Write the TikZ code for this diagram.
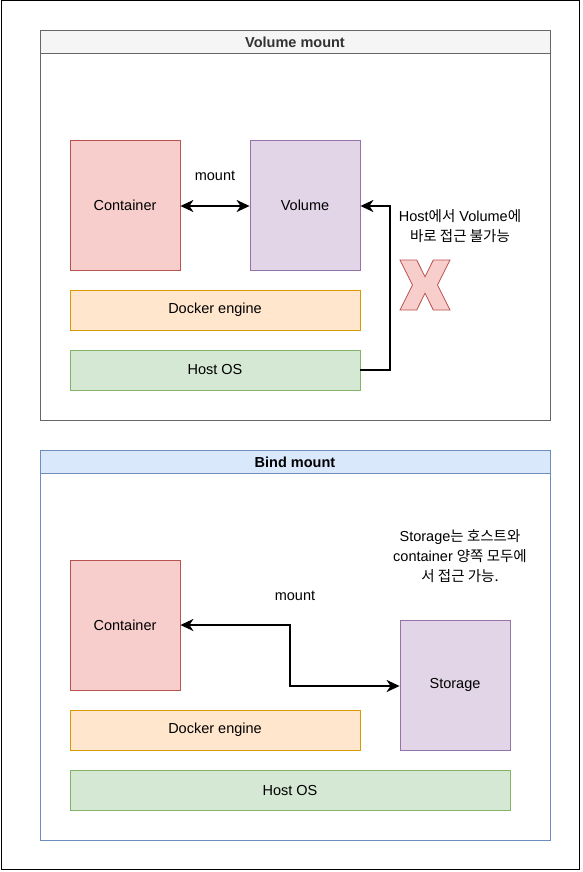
\documentclass[tikz,border=0pt]{standalone}
\usepackage{fontspec}
\setmainfont{Liberation Sans}
\newfontfamily\kr{Noto Sans CJK KR}
\usetikzlibrary{arrows.meta}
\definecolor{redF}{HTML}{F8CECC}\definecolor{redS}{HTML}{B85450}
\definecolor{purF}{HTML}{E1D5E7}\definecolor{purS}{HTML}{9673A6}
\definecolor{orF}{HTML}{FFE6CC}\definecolor{orS}{HTML}{D79B00}
\definecolor{grF}{HTML}{D5E8D4}\definecolor{grS}{HTML}{82B366}
\definecolor{gyF}{HTML}{F5F5F5}\definecolor{gyS}{HTML}{666666}
\definecolor{blF}{HTML}{DAE8FC}\definecolor{blS}{HTML}{6C8EBF}
\definecolor{txtG}{HTML}{333333}
\tikzset{
  lbl/.style={font=\fontsize{14.5}{20}\selectfont, align=center, inner sep=0pt},
  boxnode/.style={draw, line width=0.8pt, font=\fontsize{14.5}{20}\selectfont, inner sep=0pt},
  conn/.style={line width=2.2pt, draw=black}
}
\begin{document}
\begin{tikzpicture}[x=1pt,y=-1pt, >={Stealth[length=13pt,width=12pt,inset=4pt]}]
\useasboundingbox (0,0) rectangle (582,872);
\draw[line width=1pt] (1,1) rectangle (579,869);
% Volume mount frame
\draw[gyS, line width=0.8pt, fill=white] (40,30) rectangle (550,420);
\draw[gyS, line width=0.8pt, fill=gyF] (40,30) rectangle (550,53);
\node[lbl, text=txtG, font=\bfseries\fontsize{14.5}{16}\selectfont] (t1) at (295,42) {Volume mount};
% Bind mount frame
\draw[blS, line width=0.8pt, fill=white] (40,450) rectangle (550,840);
\draw[blS, line width=0.8pt, fill=blF] (40,450) rectangle (550,473);
\node[lbl, font=\bfseries\fontsize{14.5}{16}\selectfont] (t2) at (295,462) {Bind mount};
% top nodes
\node[boxnode, fill=redF, draw=redS, minimum width=110pt, minimum height=130pt] (c1) at (125,205) {Container};
\node[boxnode, fill=purF, draw=purS, minimum width=110pt, minimum height=130pt] (v1) at (305,205) {Volume};
\node[boxnode, fill=orF, draw=orS, minimum width=290pt, minimum height=40pt] (d1) at (215,310) {Docker engine};
\node[boxnode, fill=grF, draw=grS, minimum width=290pt, minimum height=40pt] (h1) at (215,370) {Host OS};
\draw[conn, <->] (c1.east |- 0,206) -- (v1.west |- 0,206);
\node[lbl] (m1) at (215,176) {mount};
\coordinate (k1) at (390,370);
\coordinate (k2) at (390,206);
\draw[conn, ->] (h1.east) -- (k1) -- (k2) -- (v1.east |- k2);
\node[lbl] (n1) at (460,226) {Host{\kr 에서} Volume{\kr 에}\\{\kr 바로 접근 불가능}};
\draw[redS, fill=redF, line width=0.8pt] (400,260) -- (416.7,260) -- (425,276.7) -- (433.3,260) -- (450,260) -- (437.5,285) -- (450,310) -- (433.3,310) -- (425,293.3) -- (416.7,310) -- (400,310) -- (412.5,285) -- cycle;
% bottom nodes
\node[boxnode, fill=redF, draw=redS, minimum width=110pt, minimum height=130pt] (c2) at (125,625) {Container};
\node[boxnode, fill=purF, draw=purS, minimum width=110pt, minimum height=130pt] (s2) at (455,685) {Storage};
\node[boxnode, fill=orF, draw=orS, minimum width=290pt, minimum height=40pt] (d2) at (215,730) {Docker engine};
\node[boxnode, fill=grF, draw=grS, minimum width=440pt, minimum height=40pt] (h2) at (290,790) {Host OS};
\coordinate (k3) at (290,625);
\coordinate (k4) at (290,686);
\draw[conn, <->] (c2.east) -- (k3) -- (k4) -- (s2.west |- k4);
\node[lbl] (m2) at (295,596) {mount};
\node[lbl] (n2) at (460,556) {Storage{\kr 는 호스트와}\\container {\kr 양쪽 모두에}\\{\kr 서 접근 가능.}};
\end{tikzpicture}
\end{document}
